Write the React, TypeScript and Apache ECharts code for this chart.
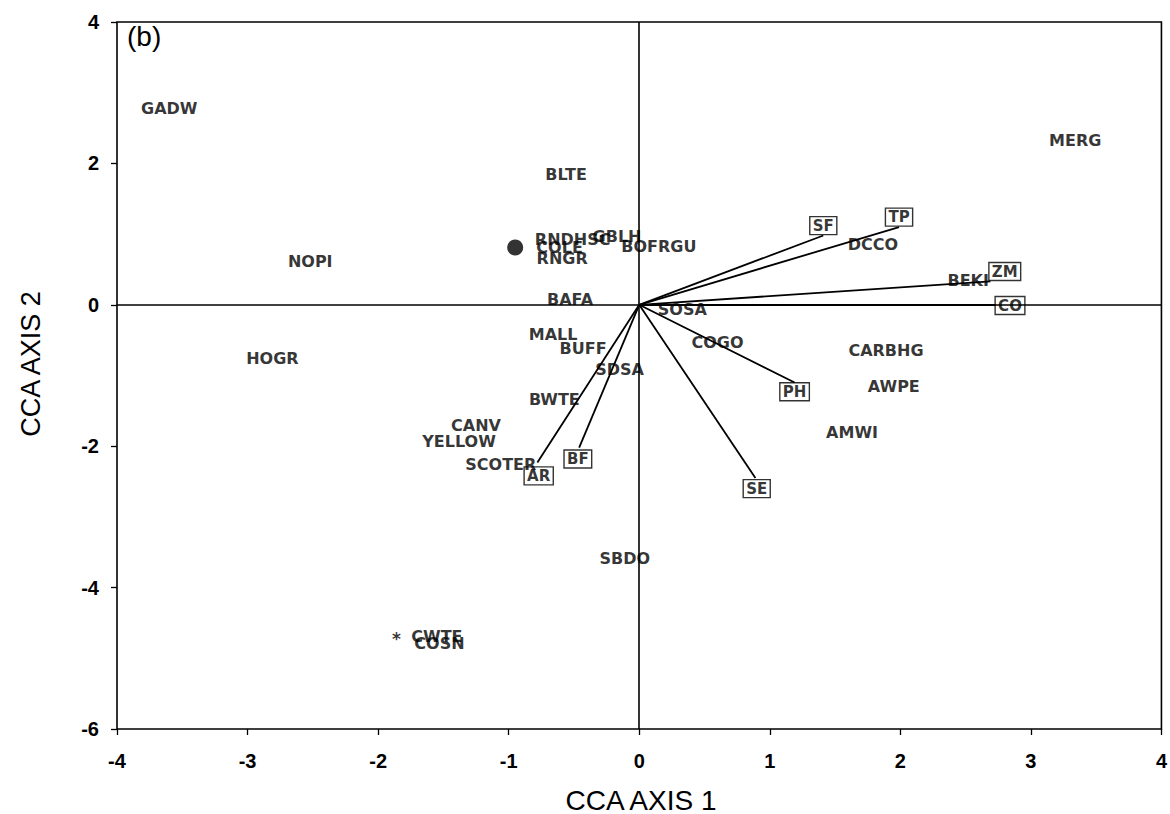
import React, { useEffect, useRef } from "react";
import * as echarts from "echarts";

// Species scores (label centres) on CCA axes 1 and 2
const speciesNames = [
  "GADW", "MERG", "BLTE", "RNDHSC", "COLE", "GBLH", "BOFRGU", "RNGR", "NOPI",
  "BAFA", "SOSA", "DCCO", "BEKI", "HOGR", "MALL", "BUFF", "COGO", "CARBHG",
  "SDSA", "AWPE", "BWTE", "CANV", "AMWI", "YELLOW", "SCOTER", "SBDO", "CWTE", "COSN",
];
const speciesX = [
  -3.6, 3.34, -0.56, -0.51, -0.61, -0.17, 0.15, -0.59, -2.52,
  -0.53, 0.33, 1.79, 2.52, -2.81, -0.66, -0.43, 0.6, 1.89,
  -0.15, 1.95, -0.65, -1.25, 1.63, -1.38, -1.06, -0.11, -1.55, -1.53,
];
const speciesY = [
  2.78, 2.33, 1.84, 0.92, 0.81, 0.96, 0.82, 0.66, 0.61,
  0.08, -0.06, 0.85, 0.34, -0.76, -0.42, -0.62, -0.54, -0.65,
  -0.92, -1.16, -1.34, -1.71, -1.8, -1.94, -2.26, -3.59, -4.69, -4.79,
];

// Environmental variable arrows: tip coordinates and boxed-label coordinates
const envNames = ["SF", "TP", "ZM", "CO", "PH", "SE", "BF", "AR"];
const envTipX = [1.41, 1.99, 2.69, 2.73, 1.19, 0.89, -0.46, -0.78];
const envTipY = [0.98, 1.1, 0.33, 0.0, -1.1, -2.45, -2.02, -2.23];
const envLabelX = [1.41, 1.99, 2.8, 2.84, 1.19, 0.9, -0.47, -0.77];
const envLabelY = [1.12, 1.24, 0.47, -0.01, -1.23, -2.6, -2.18, -2.42];

// Plotted symbols: filled dot and asterisk
const dotPoint = [-0.95, 0.81];
const starPoint = [-1.86, -4.73];

const xTitle = "CCA AXIS 1";
const yTitle = "CCA AXIS 2";
const panelTag = "(b)";

const LABEL_FONT = "'DejaVu Sans', 'Liberation Sans', Arial, sans-serif";
const AXIS_FONT = "'Liberation Sans', Arial, sans-serif";
const INK = "#000";

export default function App() {
  const ref = useRef<HTMLDivElement>(null);

  useEffect(() => {
    if (!ref.current) return;
    const chart = echarts.init(ref.current, undefined, { renderer: "svg" });

    const speciesData = speciesNames.map((n, i) => ({ name: n, value: [speciesX[i], speciesY[i]] }));
    const envLines = envNames.map((n, i) => ({ name: n, coords: [[0, 0], [envTipX[i], envTipY[i]]] }));
    const envLabels = envNames.map((n, i) => ({ name: n, value: [envLabelX[i], envLabelY[i]] }));

    chart.setOption({
      animation: false,
      backgroundColor: "#fff",
      grid: {
        left: 117,
        right: 4,
        top: 22,
        bottom: 85,
        show: true,
        borderColor: INK,
        borderWidth: 1.6,
        backgroundColor: "transparent",
      },
      xAxis: {
        type: "value",
        min: -4,
        max: 4,
        interval: 1,
        axisLine: { show: false, onZero: false },
        axisTick: { show: true, inside: false, length: 6, lineStyle: { color: INK, width: 1.3 } },
        splitLine: { show: false },
        axisLabel: { margin: 22, fontSize: 20, fontWeight: "bold", color: INK, fontFamily: AXIS_FONT },
      },
      yAxis: {
        type: "value",
        min: -6,
        max: 4,
        interval: 2,
        axisLine: { show: false, onZero: false },
        axisTick: { show: true, inside: false, length: 6, lineStyle: { color: INK, width: 1.3 } },
        splitLine: { show: false },
        axisLabel: { margin: 18, fontSize: 20, fontWeight: "bold", color: INK, fontFamily: AXIS_FONT },
      },
      graphic: [
        {
          type: "text",
          left: 127,
          top: 22,
          style: { text: panelTag, fontSize: 28, fill: INK, fontFamily: AXIS_FONT },
        },
        {
          type: "text",
          x: 641,
          y: 800,
          style: {
            text: xTitle,
            fontSize: 28,
            fill: INK,
            fontFamily: AXIS_FONT,
            align: "center",
            verticalAlign: "middle",
          },
        },
        {
          type: "text",
          x: 31,
          y: 364,
          rotation: Math.PI / 2,
          style: {
            text: yTitle,
            fontSize: 27,
            fill: INK,
            fontFamily: AXIS_FONT,
            align: "center",
            verticalAlign: "middle",
          },
        },
      ],
      series: [
        {
          // zero reference lines
          type: "scatter",
          data: [],
          silent: true,
          markLine: {
            silent: true,
            symbol: "none",
            label: { show: false },
            lineStyle: { color: INK, width: 1.6, type: "solid" },
            data: [{ xAxis: 0 }, { yAxis: 0 }],
          },
        },
        {
          type: "lines",
          coordinateSystem: "cartesian2d",
          silent: true,
          lineStyle: { color: INK, width: 1.8, opacity: 1 },
          data: envLines,
        },
        {
          type: "scatter",
          silent: true,
          symbol: "circle",
          symbolSize: 1,
          itemStyle: { color: "transparent" },
          label: {
            show: true,
            position: "inside",
            formatter: "{b}",
            color: INK,
            fontSize: 16,
            fontWeight: "bold",
            fontFamily: LABEL_FONT,
          },
          data: speciesData,
        },
        {
          type: "scatter",
          silent: true,
          symbol: "circle",
          symbolSize: 1,
          itemStyle: { color: "transparent" },
          label: {
            show: true,
            position: "inside",
            formatter: "{b}",
            color: INK,
            fontSize: 15,
            fontWeight: "bold",
            fontFamily: LABEL_FONT,
            borderColor: INK,
            borderWidth: 1.4,
            padding: [2, 3, 1, 3],
          },
          data: envLabels,
        },
        {
          type: "scatter",
          silent: true,
          symbol: "circle",
          symbolSize: 16,
          itemStyle: { color: INK },
          data: [dotPoint],
        },
        {
          type: "scatter",
          silent: true,
          symbol: "circle",
          symbolSize: 1,
          itemStyle: { color: "transparent" },
          label: {
            show: true,
            position: "inside",
            formatter: "*",
            color: INK,
            fontSize: 17,
            fontWeight: "bold",
            fontFamily: LABEL_FONT,
          },
          data: [starPoint],
        },
      ],
    });

    return () => chart.dispose();
  }, []);

  return (
    <div
      ref={ref}
      style={{ position: "fixed", left: 0, top: 0, width: 1170, height: 814, background: "#fff" }}
    />
  );
}
